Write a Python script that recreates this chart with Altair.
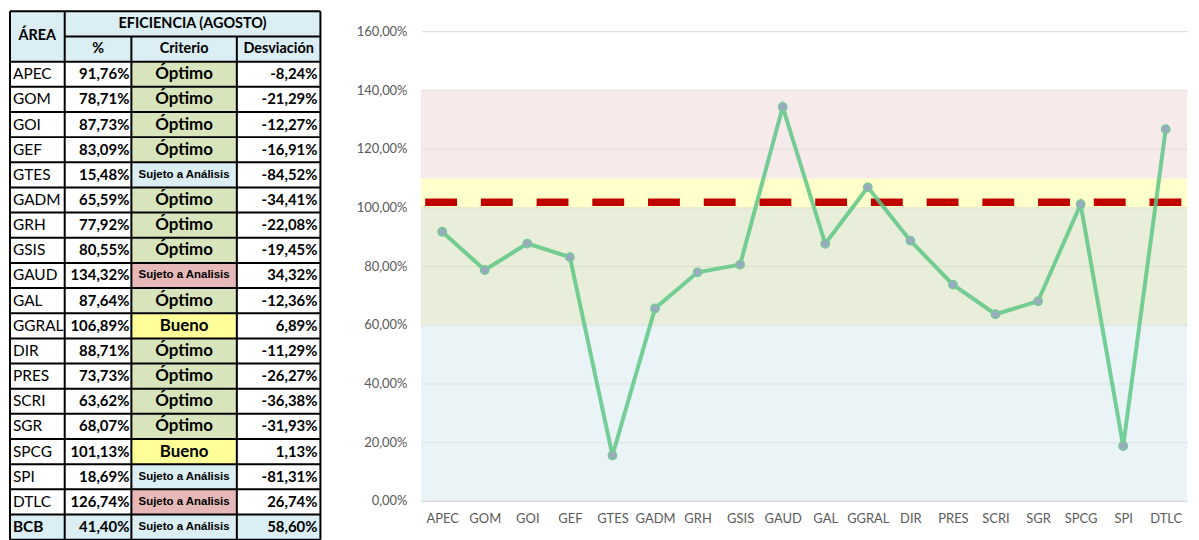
import altair as alt
import pandas as pd

# ---------------- data ----------------
AREAS = ["APEC", "GOM", "GOI", "GEF", "GTES", "GADM", "GRH", "GSIS", "GAUD", "GAL",
         "GGRAL", "DIR", "PRES", "SCRI", "SGR", "SPCG", "SPI", "DTLC", "BCB"]
EFICIENCIA = [91.76, 78.71, 87.73, 83.09, 15.48, 65.59, 77.92, 80.55, 134.32, 87.64,
              106.89, 88.71, 73.73, 63.62, 68.07, 101.13, 18.69, 126.74, 41.40]
CRITERIO = ["Óptimo", "Óptimo", "Óptimo", "Óptimo", "Sujeto a Análisis", "Óptimo", "Óptimo",
            "Óptimo", "Sujeto a Analisis", "Óptimo", "Bueno", "Óptimo", "Óptimo", "Óptimo",
            "Óptimo", "Bueno", "Sujeto a Análisis", "Sujeto a Analisis", "Sujeto a Análisis"]
DESVIACION = [-8.24, -21.29, -12.27, -16.91, -84.52, -34.41, -22.08, -19.45, 34.32, -12.36,
              6.89, -11.29, -26.27, -36.38, -31.93, 1.13, -81.31, 26.74, 58.60]
TOTAL_ROW = "BCB"
CHART_AREAS = AREAS[:18]
CHART_VALUES = EFICIENCIA[:18]

HEADER_TOP = "EFICIENCIA (AGOSTO)"
HEADER_COLS = ["ÁREA", "%", "Criterio", "Desviación"]

BAND_NAMES = ["bajo", "optimo", "bueno", "alto"]
BAND_LOW = [0.0, 0.6, 1.0, 1.1]
BAND_HIGH = [0.6, 1.0, 1.1, 1.4]
META = [1.018]
Y_TICKS = [0.0, 0.2, 0.4, 0.6, 0.8, 1.0, 1.2, 1.4, 1.6]

# ---------------- layout / style ----------------
COL_EDGES = [0, 55, 122, 228, 312]
TABLE_W = 312
TABLE_H = 531
N_ROWS = 2 + len(AREAS)
CHART_W = 770
CHART_H = 492
Y_MAX = 1.669

KIND_DOMAIN = ["header", "total", "Óptimo", "Bueno", "Sujeto a Análisis", "Sujeto a Analisis"]
KIND_RANGE = ["#DAEEF3", "#DAEEF3", "#D8E4BC", "#FFFF99", "#DAEEF3", "#E6B8B7"]
BAND_COLORS = ["#DCEBF0", "#D9E3C0", "#FFFFAA", "#F2DCDC"]
FONT = "Lato"


def fmt(v):
    return f"{v:.2f}".replace(".", ",") + "%"


C = COL_EDGES
xs = alt.Scale(domain=[0, TABLE_W], nice=False, zero=False)
ys = alt.Scale(domain=[0, N_ROWS], nice=False, zero=False, reverse=True)

# table rows
rows = []
for i, (a, p, c, d) in enumerate(zip(AREAS, EFICIENCIA, CRITERIO, DESVIACION)):
    rows.append(dict(area=a, yc=2.5 + i, pct=fmt(p), crit=c, desv=fmt(d),
                     total=(a == TOTAL_ROW), small=c.startswith("Sujeto")))
rows_df = pd.DataFrame(rows)

# cell fills
cells = [dict(x0=C[0], x1=C[4], y0=0, y1=2, kind="header")]
for i, (a, c) in enumerate(zip(AREAS, CRITERIO)):
    if a == TOTAL_ROW:
        cells.append(dict(x0=C[0], x1=C[4], y0=2 + i, y1=3 + i, kind="total"))
    cells.append(dict(x0=C[2], x1=C[3], y0=2 + i, y1=3 + i, kind=c))
cells_df = pd.DataFrame(cells)

# borders
lines = [dict(x0=C[0], x1=C[4], y0=0, y1=0), dict(x0=C[1], x1=C[4], y0=1, y1=1)]
for k in range(2, N_ROWS + 1):
    lines.append(dict(x0=C[0], x1=C[4], y0=k, y1=k))
for j, x in enumerate(C):
    start = 1 if j in (2, 3) else 0
    lines.append(dict(x0=x, x1=x, y0=start, y1=N_ROWS))
lines_df = pd.DataFrame(lines)

headers_df = pd.DataFrame([
    dict(t=HEADER_COLS[0], x=(C[0] + C[1]) / 2, y=1.0),
    dict(t=HEADER_TOP, x=(C[1] + C[4]) / 2, y=0.5),
    dict(t=HEADER_COLS[1], x=(C[1] + C[2]) / 2, y=1.5),
    dict(t=HEADER_COLS[2], x=(C[2] + C[3]) / 2, y=1.5),
    dict(t=HEADER_COLS[3], x=(C[3] + C[4]) / 2, y=1.5),
])

fills = alt.Chart(cells_df).mark_rect().encode(
    x=alt.X("x0:Q", scale=xs, axis=None), x2="x1:Q",
    y=alt.Y("y0:Q", scale=ys, axis=None), y2="y1:Q",
    color=alt.Color("kind:N", scale=alt.Scale(domain=KIND_DOMAIN, range=KIND_RANGE), legend=None),
)
borders = alt.Chart(lines_df).mark_rule(color="black", strokeWidth=2).encode(
    x=alt.X("x0:Q", scale=xs, axis=None), x2="x1:Q",
    y=alt.Y("y0:Q", scale=ys, axis=None), y2="y1:Q",
)
head_txt = alt.Chart(headers_df).mark_text(font=FONT, fontWeight="bold", fontSize=14.5, color="black").encode(
    x=alt.X("x:Q", scale=xs, axis=None), y=alt.Y("y:Q", scale=ys, axis=None), text="t:N")

base = alt.Chart(rows_df)
yenc = alt.Y("yc:Q", scale=ys, axis=None)
area_txt = base.transform_filter("!datum.total").mark_text(
    font=FONT, fontSize=15.5, align="left", dx=3, color="black").encode(
    x=alt.X(datum=C[0], scale=xs, axis=None), y=yenc, text="area:N")
area_tot = base.transform_filter("datum.total").mark_text(
    font=FONT, fontSize=15.5, fontWeight="bold", align="left", dx=3, color="black").encode(
    x=alt.X(datum=C[0], scale=xs, axis=None), y=yenc, text="area:N")
pct_txt = base.mark_text(font=FONT, fontSize=15, fontWeight="bold", align="right", dx=-2, color="black").encode(
    x=alt.X(datum=C[2], scale=xs, axis=None), y=yenc, text="pct:N")
crit_big = base.transform_filter("!datum.small").mark_text(
    font=FONT, fontSize=17, fontWeight="bold", color="black").encode(
    x=alt.X(datum=(C[2] + C[3]) / 2, scale=xs, axis=None), y=yenc, text="crit:N")
crit_small = base.transform_filter("datum.small").mark_text(
    font="Liberation Sans", fontSize=11.5, fontWeight="bold", color="black").encode(
    x=alt.X(datum=(C[2] + C[3]) / 2, scale=xs, axis=None), y=yenc, text="crit:N")
desv_txt = base.mark_text(font=FONT, fontSize=15, fontWeight="bold", align="right", dx=-3, color="black").encode(
    x=alt.X(datum=C[4], scale=xs, axis=None), y=yenc, text="desv:N")

table = alt.layer(fills, borders, head_txt, area_txt, area_tot, pct_txt, crit_big, crit_small, desv_txt).properties(
    width=TABLE_W, height=TABLE_H)

# ---------------- line chart ----------------
chart_df = pd.DataFrame({"area": CHART_AREAS, "ef": [v / 100 for v in CHART_VALUES]})
bands_df = pd.DataFrame({"name": BAND_NAMES, "low": BAND_LOW, "high": BAND_HIGH})
meta_df = pd.DataFrame({"meta": META})

y_scale = alt.Scale(domain=[0, Y_MAX], nice=False, zero=True)
y_axis = alt.Axis(values=Y_TICKS, labelExpr="replace(format(datum.value, '.2%'), '.', ',')",
                  grid=True, gridColor="#D9D9D9", gridWidth=1, domain=False, ticks=False, tickSize=0,
                  labelPadding=14, minExtent=65, maxExtent=65, labelFont=FONT, labelFontSize=13,
                  labelColor="#595959", title=None)
x_enc = alt.X("area:N", sort=CHART_AREAS, scale=alt.Scale(type="point", padding=0.5),
              axis=alt.Axis(title=None, labelAngle=0, ticks=False, tickSize=0, domain=True,
                            domainColor="#D9D9D9", domainWidth=1.5, labelColor="#595959", labelFont=FONT,
                            labelFontSize=13, labelPadding=12, grid=False))

bands = alt.Chart(bands_df).mark_rect(opacity=0.6).encode(
    y=alt.Y("low:Q", scale=y_scale, axis=y_axis), y2="high:Q",
    fill=alt.Fill("name:N", scale=alt.Scale(domain=BAND_NAMES, range=BAND_COLORS), legend=None),
)
meta = alt.Chart(meta_df).mark_rule(color="#C00000", strokeWidth=7.5, strokeDash=[32, 24],
                                     strokeDashOffset=50.3).encode(
    y=alt.Y("meta:Q", scale=y_scale, axis=y_axis))
line = alt.Chart(chart_df).mark_line(color="#5EC786", strokeWidth=4, opacity=0.85).encode(
    x=x_enc, y=alt.Y("ef:Q", scale=y_scale, axis=y_axis))
pts = alt.Chart(chart_df).mark_circle(size=75, color="#98ABBF", stroke="#74CB92", strokeWidth=1.2,
                                       opacity=1).encode(
    x=x_enc, y=alt.Y("ef:Q", scale=y_scale, axis=y_axis))

linechart = alt.layer(bands, meta, line, pts).properties(width=CHART_W, height=CHART_H)

chart = alt.hconcat(table, linechart, spacing=34).resolve_scale(
    color="independent", fill="independent"
).properties(
    padding={"left": 1, "top": 1, "right": 0, "bottom": 0}
).configure_view(stroke=None)

chart.save("out.html", embed_options={"renderer": "svg", "actions": False})
